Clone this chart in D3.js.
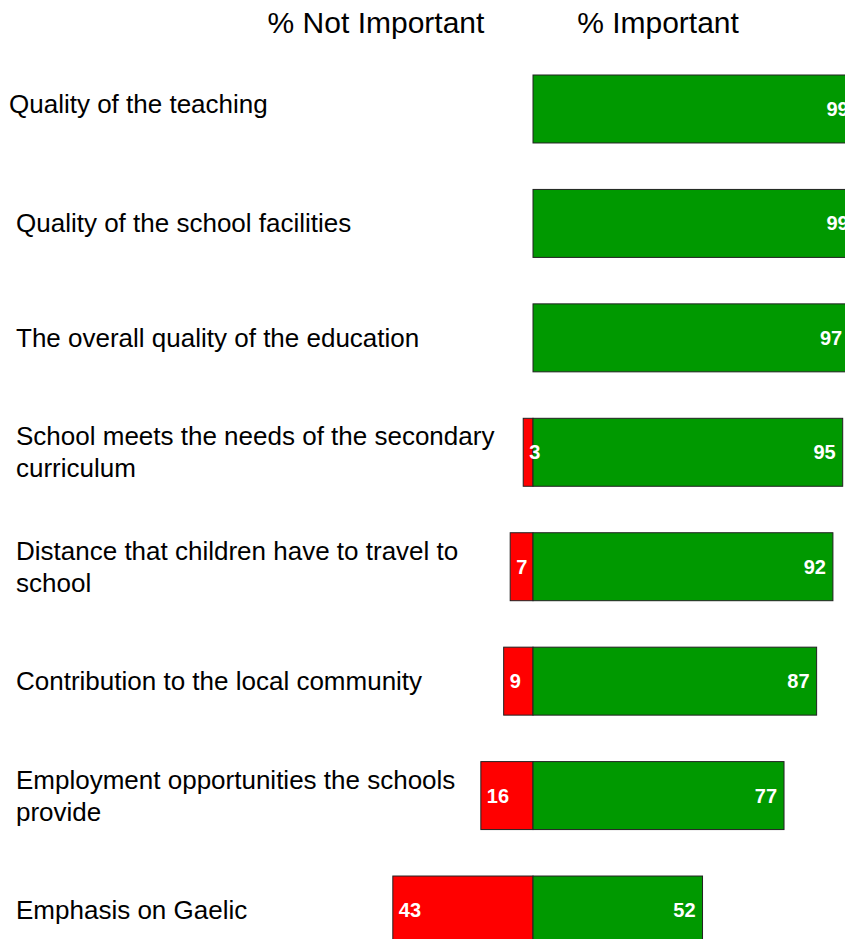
<!DOCTYPE html>
<html><head><meta charset="utf-8">
<script src="https://cdn.jsdelivr.net/npm/d3@7"></script>
<style>body{margin:0;background:#fff;overflow:hidden}svg{display:block}</style>
</head><body>
<script>
const categories = [
  "Quality of the teaching",
  "Quality of the school facilities",
  "The overall quality of the education",
  "School meets the needs of the secondary|curriculum",
  "Distance that children have to travel to|school",
  "Contribution to the local community",
  "Employment opportunities the schools|provide",
  "Emphasis on Gaelic"
];
const notImportant = [null, null, null, 3, 7, 9, 16, 43];
const important = [99, 99, 97, 95, 92, 87, 77, 52];
const headers = ["% Not Important", "% Important"];

const W = 845, H = 939;
const svg = d3.select("body").append("svg").attr("width", W).attr("height", H);

const x = d3.scaleLinear().domain([-100, 100]).range([207, 859]);
const y = d3.scaleBand().domain(categories).range([75, 944]).paddingInner(0.406).paddingOuter(0).align(0);

svg.append("text").attr("x", 376).attr("y", 33).attr("text-anchor", "middle")
  .attr("font-family", "Liberation Sans, Arial, sans-serif").attr("font-size", 30).text(headers[0]);
svg.append("text").attr("x", 658).attr("y", 33).attr("text-anchor", "middle")
  .attr("font-family", "Liberation Sans, Arial, sans-serif").attr("font-size", 30).text(headers[1]);

const rows = svg.selectAll("g.row").data(categories.map((c, i) => ({c, i, n: notImportant[i], p: important[i]})))
  .join("g").attr("class", "row");

// labels
rows.each(function(d) {
  const g = d3.select(this);
  const lines = d.c.split("|");
  const cy = y(d.c) + y.bandwidth() / 2;
  const lh = 32;
  const x0 = d.i === 0 ? 9 : 16;
  const dy0 = d.i === 0 ? -5 : 0;
  const t = g.append("text").attr("font-family", "Liberation Sans, Arial, sans-serif").attr("font-size", 26).attr("fill", "#000");
  lines.forEach((ln, k) => {
    t.append("tspan").attr("x", x0)
      .attr("y", cy + dy0 + (k - (lines.length - 1) / 2) * lh + 9)
      .text(ln);
  });
});

// red bars
rows.filter(d => d.n != null).append("rect")
  .attr("x", d => x(-d.n)).attr("y", d => y(d.c))
  .attr("width", d => x(0) - x(-d.n)).attr("height", y.bandwidth())
  .attr("fill", "#ff0000").attr("stroke", "#222").attr("stroke-width", 1);
// green bars
rows.append("rect")
  .attr("x", x(0)).attr("y", d => y(d.c))
  .attr("width", d => x(d.p) - x(0)).attr("height", y.bandwidth())
  .attr("fill", "#009900").attr("stroke", "#222").attr("stroke-width", 1);

// values
rows.filter(d => d.n != null).append("text")
  .attr("x", d => x(-d.n) + 6).attr("y", d => y(d.c) + y.bandwidth() / 2 + 7)
  .attr("font-family", "Liberation Sans, Arial, sans-serif").attr("font-weight", "bold").attr("font-size", 20)
  .attr("fill", "#fff").text(d => d.n);
rows.append("text")
  .attr("x", d => x(d.p) - 7).attr("y", d => y(d.c) + y.bandwidth() / 2 + 7)
  .attr("text-anchor", "end")
  .attr("font-family", "Liberation Sans, Arial, sans-serif").attr("font-weight", "bold").attr("font-size", 20)
  .attr("fill", "#fff").text(d => d.p);
</script>
</body></html>
